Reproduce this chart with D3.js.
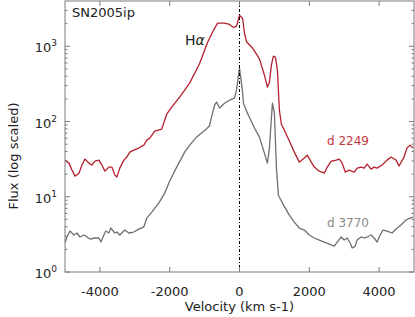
<!DOCTYPE html>
<html>
<head>
<meta charset="utf-8">
<script src="https://cdn.jsdelivr.net/npm/d3@7"></script>
<style>
  body { margin: 0; background: #fff; }
  text { font-family: "DejaVu Sans", sans-serif; }
</style>
</head>
<body>
<div id="chart"></div>
<script>
// velocity (km/s) and flux for the two epochs
const velRed = [-5000, -4886, -4800, -4714, -4600, -4514, -4429, -4314, -4229, -4143, -4029, -3943, -3857, -3743, -3657, -3571, -3514, -3429, -3314, -3229, -3143, -3029, -2886, -2743, -2657, -2571, -2429, -2229, -2086, -1943, -1714, -1429, -1143, -914, -743, -629, -429, -286, -171, -86, 0, 86, 143, 200, 371, 571, 714, 800, 857, 914, 971, 1029, 1086, 1143, 1200, 1286, 1429, 1571, 1714, 1857, 1943, 2057, 2143, 2286, 2429, 2514, 2629, 2771, 2857, 2943, 3029, 3143, 3286, 3371, 3486, 3571, 3657, 3771, 3857, 3943, 4086, 4229, 4343, 4486, 4571, 4714, 4800, 4886, 4971];
const fluxRed = [30.7, 28.0, 22.6, 18.8, 20.6, 26.4, 31.7, 28.0, 26.4, 29.8, 30.7, 26.4, 21.9, 24.8, 24.8, 19.4, 18.3, 24.0, 30.7, 33.7, 39.2, 41.7, 44.4, 48.6, 56.6, 60.2, 74.6, 79.3, 125, 155, 211, 324, 590, 1133, 1637, 2028, 2028, 1950, 1780, 1849, 2589, 2361, 1500, 1150, 950, 680, 413, 286, 334, 561, 739, 717, 482, 142, 92, 76.8, 55, 39.2, 28.9, 32.7, 35.8, 28.9, 24.8, 21.9, 20.6, 24.8, 29.8, 30.7, 31.7, 28.0, 21.3, 22.6, 21.3, 24.0, 24.8, 24.0, 27.2, 23.3, 24.8, 24.0, 26.4, 30.7, 33.7, 30.7, 25.6, 33.7, 44.4, 48.6, 44.4];

const velGray = [-5000, -4943, -4857, -4743, -4657, -4571, -4457, -4371, -4286, -4143, -4029, -3971, -3886, -3829, -3743, -3686, -3571, -3514, -3429, -3286, -3171, -3029, -2886, -2743, -2657, -2514, -2314, -2143, -2000, -1800, -1571, -1429, -1229, -943, -857, -800, -714, -657, -571, -429, -286, -143, -86, 0, 86, 114, 229, 429, 571, 714, 800, 857, 943, 1000, 1057, 1114, 1229, 1429, 1571, 1714, 1857, 2000, 2143, 2286, 2429, 2571, 2714, 2800, 2914, 3000, 3086, 3171, 3229, 3314, 3371, 3486, 3571, 3657, 3771, 3857, 3943, 4029, 4114, 4229, 4371, 4486, 4629, 4771, 4886, 4971];
const fluxGray = [2.45, 2.92, 3.50, 3.10, 3.30, 2.92, 3.10, 2.92, 2.74, 2.83, 2.83, 2.50, 3.10, 3.50, 3.30, 3.84, 3.30, 3.40, 3.10, 3.61, 3.30, 3.40, 3.72, 3.96, 5.21, 6.26, 8.25, 11.2, 16.2, 24.8, 39.2, 48.6, 62.1, 80, 88, 115, 165, 181, 151, 175, 192, 205, 261, 512, 250, 175, 129, 82, 62.1, 38.0, 28.0, 44.4, 175, 129, 24.8, 10.5, 8.25, 5.71, 4.61, 3.84, 3.61, 3.10, 2.83, 2.66, 2.50, 2.35, 2.21, 2.50, 2.92, 2.66, 2.83, 2.43, 2.08, 2.21, 2.66, 2.92, 2.83, 2.92, 3.10, 2.83, 2.50, 3.10, 3.61, 3.50, 3.30, 3.72, 4.21, 4.91, 5.21, 5.37];

const xTicks = [-4000, -2000, 0, 2000, 4000];
const yTicks = [1, 10, 100, 1000];

const W = 415, H = 317;
const margin = { top: 1, right: 1, bottom: 45, left: 65 };
const width = W - margin.left - margin.right;
const height = H - margin.top - margin.bottom;

const svg = d3.select('#chart').append('svg')
  .attr('width', W).attr('height', H)
  .append('g')
  .attr('transform', `translate(${margin.left},${margin.top})`);

const x = d3.scaleLinear().domain([-5000, 5000]).range([0, width]);
const y = d3.scaleLog().domain([1, 4000]).range([height, 0]);

// clip for the curves
svg.append('clipPath').attr('id', 'clip')
  .append('rect').attr('width', width).attr('height', height);

const line = d3.line()
  .x(d => x(d[0]))
  .y(d => y(d[1]));

const red = velRed.map((v, i) => [v, fluxRed[i]]);
const gray = velGray.map((v, i) => [v, fluxGray[i]]);

svg.append('path').datum(red)
  .attr('clip-path', 'url(#clip)')
  .attr('fill', 'none')
  .attr('stroke', '#b5212e')
  .attr('stroke-width', 1.3)
  .attr('stroke-linejoin', 'round')
  .attr('d', line);

svg.append('path').datum(gray)
  .attr('clip-path', 'url(#clip)')
  .attr('fill', 'none')
  .attr('stroke', '#6f6f6f')
  .attr('stroke-width', 1.3)
  .attr('stroke-linejoin', 'round')
  .attr('d', line);

// zero velocity line
svg.append('line')
  .attr('x1', x(0)).attr('x2', x(0))
  .attr('y1', 0).attr('y2', height)
  .attr('stroke', '#000')
  .attr('stroke-width', 1)
  .attr('stroke-dasharray', '3,2,1,2');

// frame
svg.append('rect')
  .attr('width', width).attr('height', height)
  .attr('fill', 'none')
  .attr('stroke', '#7a7a7a')
  .attr('stroke-width', 1);

// inward ticks on all sides
const minor = [];
for (let p = 0; p < 4; p++) {
  for (let m = 2; m <= 9; m++) {
    const v = m * Math.pow(10, p);
    if (v < 4000) minor.push(v);
  }
}
const tickColor = '#7a7a7a';
xTicks.forEach(t => {
  svg.append('line').attr('x1', x(t)).attr('x2', x(t))
    .attr('y1', height).attr('y2', height - 5).attr('stroke', tickColor);
  svg.append('line').attr('x1', x(t)).attr('x2', x(t))
    .attr('y1', 0).attr('y2', 5).attr('stroke', tickColor);
});
yTicks.forEach(t => {
  svg.append('line').attr('x1', 0).attr('x2', 5)
    .attr('y1', y(t)).attr('y2', y(t)).attr('stroke', tickColor);
  svg.append('line').attr('x1', width).attr('x2', width - 5)
    .attr('y1', y(t)).attr('y2', y(t)).attr('stroke', tickColor);
});
minor.forEach(t => {
  svg.append('line').attr('x1', 0).attr('x2', 2.5)
    .attr('y1', y(t)).attr('y2', y(t)).attr('stroke', tickColor);
  svg.append('line').attr('x1', width).attr('x2', width - 2.5)
    .attr('y1', y(t)).attr('y2', y(t)).attr('stroke', tickColor);
});

// tick labels
svg.selectAll('.xlab').data(xTicks).enter().append('text')
  .attr('x', d => x(d))
  .attr('y', height + 24)
  .attr('text-anchor', 'middle')
  .style('font-size', '13px')
  .style('fill', '#222')
  .text(d => d);

const yl = svg.selectAll('.ylab').data(yTicks).enter().append('text')
  .attr('x', -8)
  .attr('y', d => y(d) + 6)
  .attr('text-anchor', 'end')
  .style('font-size', '13px')
  .style('fill', '#222');
yl.append('tspan').text('10');
yl.append('tspan').attr('dy', -6).style('font-size', '9px')
  .text(d => Math.round(Math.log10(d)));

// axis titles
svg.append('text')
  .attr('x', x(0))
  .attr('y', height + 39)
  .attr('text-anchor', 'middle')
  .style('font-size', '13px')
  .style('fill', '#222')
  .text('Velocity (km s-1)');

svg.append('text')
  .attr('transform', `translate(${-47},${155}) rotate(-90)`)
  .attr('text-anchor', 'middle')
  .style('font-size', '13px')
  .style('fill', '#222')
  .text('Flux (log scaled)');

// annotations
svg.append('text')
  .attr('x', 7).attr('y', 16)
  .style('font-size', '13px')
  .style('fill', '#222')
  .text('SN2005ip');

const ha = svg.append('text')
  .attr('x', 120).attr('y', 44)
  .style('font-size', '14px')
  .style('fill', '#222');
ha.append('tspan').text('H');
ha.append('tspan').style('font-style', 'italic').text('α');

svg.append('text')
  .attr('x', 262).attr('y', 144)
  .style('font-size', '12px')
  .style('fill', '#c0393f')
  .text('d 2249');

svg.append('text')
  .attr('x', 262).attr('y', 226)
  .style('font-size', '12px')
  .style('fill', '#8a8a8a')
  .text('d 3770');
</script>
</body>
</html>
